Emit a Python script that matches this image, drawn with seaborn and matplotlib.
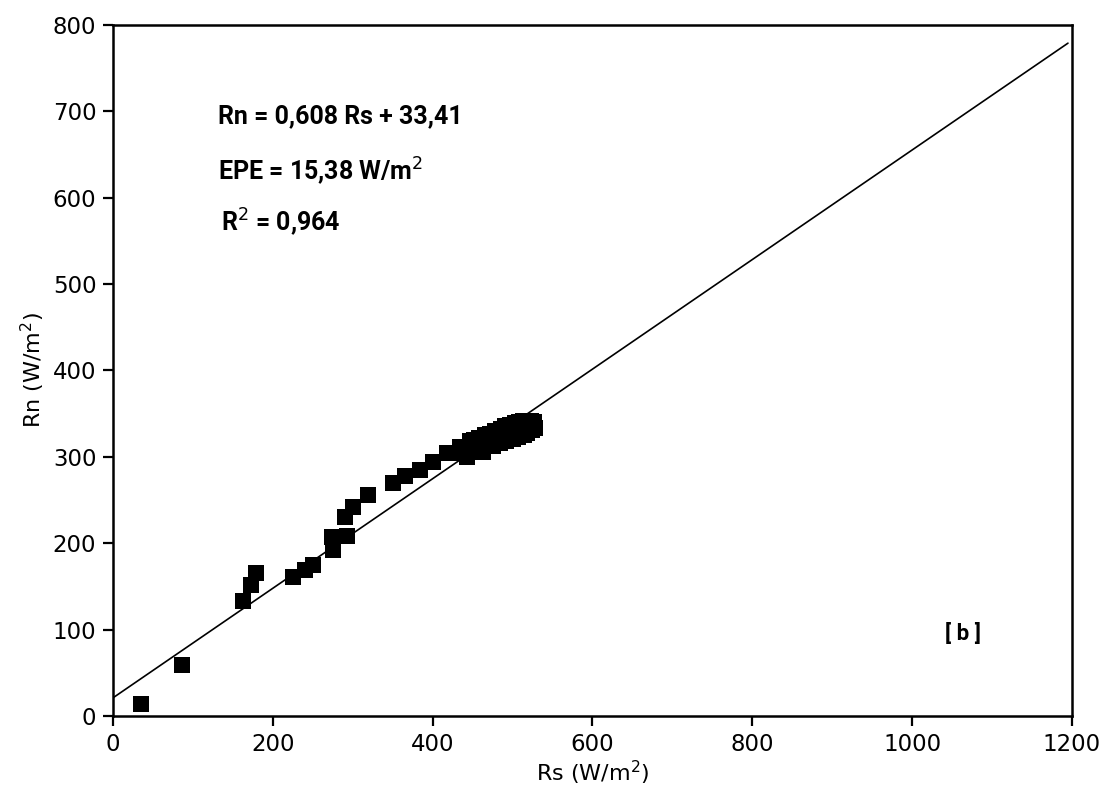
import matplotlib
matplotlib.use("Agg")
import matplotlib.pyplot as plt
import seaborn as sns
import pandas as pd

# Observed points (Rs, Rn) in W/m2
rs_values = [35, 86, 163, 173, 179, 225, 240, 250, 275, 274, 293, 290, 300, 319,
             350, 365, 384, 400, 418, 434, 443, 463,
             432, 440, 447, 452, 458, 465, 472, 478, 485, 491, 497, 503, 508, 513, 518, 523, 527,
             476, 484, 492, 500, 507, 514, 518, 524, 528,
             470, 480, 488, 496, 504, 512, 520, 455, 466]
rn_values = [14, 59, 133, 152, 165, 161, 169, 175, 192, 207, 208, 230, 242, 256,
             270, 278, 285, 294, 304, 311, 300, 306,
             305, 312, 318, 320, 322, 325, 327, 330, 332, 336, 337, 339, 340, 341, 342, 342, 340,
             313, 316, 318, 321, 323, 325, 328, 331, 334,
             320, 324, 327, 330, 332, 334, 336, 310, 316]

# Fitted line as drawn
line_rs = [0, 1195]
line_rn = [21, 779]

x_ticks = [0, 200, 400, 600, 800, 1000, 1200]
y_ticks = [0, 100, 200, 300, 400, 500, 600, 700, 800]

sns.set_theme(style="white")
plt.rcParams['font.family'] = ['DejaVu Sans']
plt.rcParams['text.color'] = 'black'
plt.rcParams['axes.labelcolor'] = 'black'

fig = plt.figure(figsize=(11.09, 7.92), dpi=100)
ax = fig.add_axes([0.1019, 0.0960, 0.8647, 0.8724])

pts = pd.DataFrame({"Rs": rs_values, "Rn": rn_values})
line = pd.DataFrame({"Rs": line_rs, "Rn": line_rn})

sns.lineplot(data=line, x="Rs", y="Rn", color="black", linewidth=1.2, ax=ax)
sns.scatterplot(data=pts, x="Rs", y="Rn", marker="s", s=135, color="black",
                edgecolor="black", linewidth=0, ax=ax, zorder=3)

ax.set_xlim(0, 1200)
ax.set_ylim(0, 800)
ax.set_xticks(x_ticks)
ax.set_yticks(y_ticks)
ax.tick_params(axis="both", direction="out", length=7, width=1.6, labelsize=16.5,
               colors="black", pad=5, bottom=True, left=True)
for sp in ax.spines.values():
    sp.set_visible(True)
    sp.set_color("black")
    sp.set_linewidth(1.8)

ax.set_xlabel("Rs (W/m$^2$)", fontsize=16, labelpad=2, color="black")
ax.set_ylabel("Rn (W/m$^2$)", fontsize=16, labelpad=4, color="black")

fam = ['Roboto', 'DejaVu Sans']
ax.text(0.109, 0.868, "Rn = 0,608 Rs + 33,41", transform=ax.transAxes,
        fontsize=18, fontweight="bold", family=fam, va="center", ha="left", color="black")
ax.text(0.109, 0.788, "EPE = 15,38 W/m$^2$", transform=ax.transAxes,
        fontsize=18, fontweight="bold", family=fam, va="center", ha="left", color="black")
ax.text(0.113, 0.715, "R$^2$ = 0,964", transform=ax.transAxes,
        fontsize=18, fontweight="bold", family=fam, va="center", ha="left", color="black")
ax.text(0.886, 0.119, "[ b ]", transform=ax.transAxes,
        fontsize=16, fontweight="bold", family=fam, va="center", ha="center", color="black")

fig.savefig("out.png", dpi=100)
